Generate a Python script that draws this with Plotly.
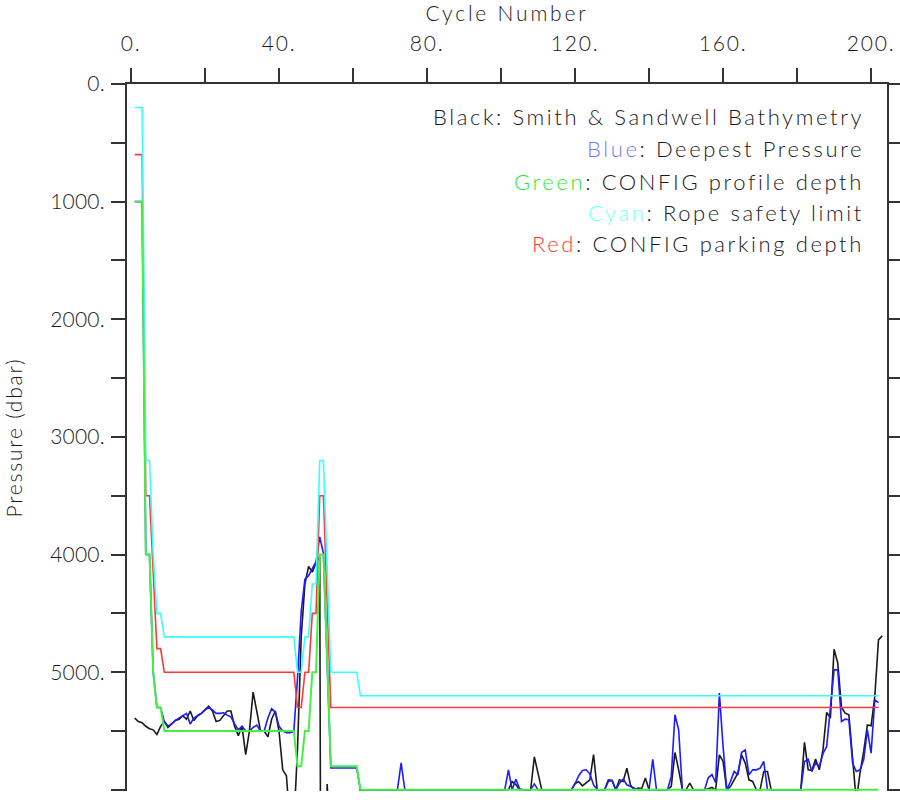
import plotly.graph_objects as go

# ---------------- data ----------------
black_bathy = [
    5390, 5420, 5430, 5460, 5480, 5490, 5530, 5460, 5420, 5470,   # 1-10
    5440, 5410, 5400, 5370, 5400, 5330, 5410, 5370, 5350, 5320,   # 11-20
    5290, 5330, 5420, 5410, 5370, 5330, 5330, 5460, 5540, 5460,   # 21-30
    5700, 5500, 5170, 5350, 5500, 5500, 5550, 5400, 5330, 5500,   # 31-40
    5830, 5880, 6300, 6300, 5650, 4700, 4250, 4100, 4150, 4070,   # 41-50
    4020, 15000, 5950, 6500, 6100, 6100, 6100, 6100, 6100, 6100,  # 51-60
    6100, 6000, 6000, 6000, 6000, 6000, 6000, 6000, 6000, 6000,   # 61-70
    6000, 6000, 6000, 6000, 6000, 6000, 6000, 6000, 6000, 6000,   # 71-80
    6000, 6000, 6000, 6000, 6000, 6000, 6000, 6000, 6000, 6000,   # 81-90
    6000, 6000, 6000, 6000, 6000, 6000, 6000, 6000, 6000, 6000,   # 91-100
    6000, 6000, 5930, 5955, 6000, 6000, 6000, 6000, 5720, 5850,   # 101-110
    6000, 6000, 6000, 6000, 6000, 6000, 6000, 6000, 6000, 5946,   # 111-120
    5932, 5966, 5938, 5915, 5700, 6000, 6000, 6000, 5915, 5921,   # 121-130
    6000, 5915, 5929, 5816, 5960, 6000, 5986, 5990, 5900, 6000,   # 131-140
    6000, 6000, 6000, 6000, 6000, 5970, 5683, 5830, 6000, 6000,   # 141-150
    5943, 6000, 6000, 6000, 6000, 5990, 5980, 6000, 5703, 5759,   # 151-160
    6000, 5972, 5915, 5858, 5703, 5773, 5915, 5929, 6000, 6000,   # 161-170
    5844, 5844, 6000, 6000, 6000, 6000, 6000, 6000, 6000, 6000,   # 171-180
    6000, 5597, 5830, 5835, 5739, 5830, 5660, 5342, 5391, 4805,   # 181-190
    4923, 5297, 5348, 5362, 5773, 6100, 5858, 5674, 5448, 5456,   # 191-200
    5207, 4725, 4691,                                             # 201-203
]

blue_deepest = [
    1000, 1000, 1000, 4000, 4000, 5000, 5300, 5300, 5420, 5460,   # 1-10
    5440, 5410, 5390, 5370, 5350, 5440, 5390, 5370, 5350, 5320,   # 11-20
    5300, 5320, 5350, 5350, 5345, 5365, 5380, 5440, 5490, 5460,   # 21-30
    5500, 5500, 5470, 5450, 5500, 5500, 5390, 5310, 5340, 5460,   # 31-40
    5500, 5515, 5515, 5505, 5050, 4480, 4210, 4180, 4120, 4060,   # 41-50
    3850, 3990, 4900, 5815, 5815, 5815, 5815, 5815, 5815, 5815,   # 51-60
    5815, 6000, 6000, 6000, 6000, 6000, 6000, 6000, 6000, 6000,   # 61-70
    6000, 6000, 5770, 6000, 6000, 6000, 6000, 6000, 6000, 6000,   # 71-80
    6000, 6000, 6000, 6000, 6000, 6000, 6000, 6000, 6000, 6000,   # 81-90
    6000, 6000, 6000, 6000, 6000, 6000, 6000, 6000, 6000, 6000,   # 91-100
    6000, 5830, 6000, 5910, 5990, 6000, 6000, 6000, 5950, 6000,   # 101-110
    6000, 6000, 6000, 6000, 6000, 6000, 6000, 6000, 6000, 5950,   # 111-120
    5880, 5836, 5830, 5864, 5957, 6000, 6000, 6000, 5929, 5921,   # 121-130
    6000, 5943, 5909, 5957, 5972, 5986, 6000, 6000, 6000, 6000,   # 131-140
    5740, 6000, 6000, 6000, 6000, 5886, 5362, 5490, 6000, 6000,   # 141-150
    6000, 6000, 6000, 6000, 6000, 5898, 5870, 5940, 5178, 5631,   # 151-160
    6000, 5929, 5844, 5873, 5683, 5660, 5873, 5830, 5830, 5816,   # 161-170
    5759, 6000, 6000, 6000, 6000, 6000, 6000, 6000, 6000, 6000,   # 171-180
    6000, 5759, 5739, 5844, 5773, 5801, 5693, 5631, 5320, 4980,   # 181-190
    4980, 5419, 5399, 5405, 5773, 5844, 5830, 5745, 5490, 5688,   # 191-200
    5235, 5258,                                                   # 201-202
]

green_profile = [
    1000, 1000, 1000, 4000, 4000, 5000, 5300, 5300, 5500, 5500,   # 1-10
    5500, 5500, 5500, 5500, 5500, 5500, 5500, 5500, 5500, 5500,   # 11-20
    5500, 5500, 5500, 5500, 5500, 5500, 5500, 5500, 5500, 5500,   # 21-30
    5500, 5500, 5500, 5500, 5500, 5500, 5500, 5500, 5500, 5500,   # 31-40
    5500, 5500, 5500, 5500, 5800, 5800, 5500, 5500, 5000, 5000,   # 41-50
    4000, 4000, 4900, 5800, 5800, 5800, 5800, 5800, 5800, 5800,   # 51-60
    5800, 6000, 6000, 6000, 6000, 6000, 6000, 6000, 6000, 6000,   # 61-70
    6000, 6000, 6000, 6000, 6000, 6000, 6000, 6000, 6000, 6000,   # 71-80
    6000, 6000, 6000, 6000, 6000, 6000, 6000, 6000, 6000, 6000,   # 81-90
    6000, 6000, 6000, 6000, 6000, 6000, 6000, 6000, 6000, 6000,   # 91-100
    6000, 6000, 6000, 6000, 6000, 6000, 6000, 6000, 6000, 6000,   # 101-110
    6000, 6000, 6000, 6000, 6000, 6000, 6000, 6000, 6000, 6000,   # 111-120
    6000, 6000, 6000, 6000, 6000, 6000, 6000, 6000, 6000, 6000,   # 121-130
    6000, 6000, 6000, 6000, 6000, 6000, 6000, 6000, 6000, 6000,   # 131-140
    6000, 6000, 6000, 6000, 6000, 6000, 6000, 6000, 6000, 6000,   # 141-150
    6000, 6000, 6000, 6000, 6000, 6000, 6000, 6000, 6000, 6000,   # 151-160
    6000, 6000, 6000, 6000, 6000, 6000, 6000, 6000, 6000, 6000,   # 161-170
    6000, 6000, 6000, 6000, 6000, 6000, 6000, 6000, 6000, 6000,   # 171-180
    6000, 6000, 6000, 6000, 6000, 6000, 6000, 6000, 6000, 6000,   # 181-190
    6000, 6000, 6000, 6000, 6000, 6000, 6000, 6000, 6000, 6000,   # 191-200
    6000, 6000,                                                   # 201-202
]

cyan_rope = [
    200, 200, 200, 3200, 3200, 4000, 4500, 4500, 4700, 4700,      # 1-10
    4700, 4700, 4700, 4700, 4700, 4700, 4700, 4700, 4700, 4700,   # 11-20
    4700, 4700, 4700, 4700, 4700, 4700, 4700, 4700, 4700, 4700,   # 21-30
    4700, 4700, 4700, 4700, 4700, 4700, 4700, 4700, 4700, 4700,   # 31-40
    4700, 4700, 4700, 4700, 5000, 5000, 4700, 4700, 4250, 4250,   # 41-50
    3200, 3200, 4100, 5000, 5000, 5000, 5000, 5000, 5000, 5000,   # 51-60
    5000, 5200, 5200, 5200, 5200, 5200, 5200, 5200, 5200, 5200,   # 61-70
    5200, 5200, 5200, 5200, 5200, 5200, 5200, 5200, 5200, 5200,   # 71-80
    5200, 5200, 5200, 5200, 5200, 5200, 5200, 5200, 5200, 5200,   # 81-90
    5200, 5200, 5200, 5200, 5200, 5200, 5200, 5200, 5200, 5200,   # 91-100
    5200, 5200, 5200, 5200, 5200, 5200, 5200, 5200, 5200, 5200,   # 101-110
    5200, 5200, 5200, 5200, 5200, 5200, 5200, 5200, 5200, 5200,   # 111-120
    5200, 5200, 5200, 5200, 5200, 5200, 5200, 5200, 5200, 5200,   # 121-130
    5200, 5200, 5200, 5200, 5200, 5200, 5200, 5200, 5200, 5200,   # 131-140
    5200, 5200, 5200, 5200, 5200, 5200, 5200, 5200, 5200, 5200,   # 141-150
    5200, 5200, 5200, 5200, 5200, 5200, 5200, 5200, 5200, 5200,   # 151-160
    5200, 5200, 5200, 5200, 5200, 5200, 5200, 5200, 5200, 5200,   # 161-170
    5200, 5200, 5200, 5200, 5200, 5200, 5200, 5200, 5200, 5200,   # 171-180
    5200, 5200, 5200, 5200, 5200, 5200, 5200, 5200, 5200, 5200,   # 181-190
    5200, 5200, 5200, 5200, 5200, 5200, 5200, 5200, 5200, 5200,   # 191-200
    5200, 5200,                                                   # 201-202
]

red_parking = [
    600, 600, 600, 3500, 3500, 4150, 4800, 4800, 5000, 5000,      # 1-10
    5000, 5000, 5000, 5000, 5000, 5000, 5000, 5000, 5000, 5000,   # 11-20
    5000, 5000, 5000, 5000, 5000, 5000, 5000, 5000, 5000, 5000,   # 21-30
    5000, 5000, 5000, 5000, 5000, 5000, 5000, 5000, 5000, 5000,   # 31-40
    5000, 5000, 5000, 5000, 5300, 5300, 5000, 5000, 4500, 4500,   # 41-50
    3500, 3500, 4400, 5300, 5300, 5300, 5300, 5300, 5300, 5300,   # 51-60
    5300, 5300, 5300, 5300, 5300, 5300, 5300, 5300, 5300, 5300,   # 61-70
    5300, 5300, 5300, 5300, 5300, 5300, 5300, 5300, 5300, 5300,   # 71-80
    5300, 5300, 5300, 5300, 5300, 5300, 5300, 5300, 5300, 5300,   # 81-90
    5300, 5300, 5300, 5300, 5300, 5300, 5300, 5300, 5300, 5300,   # 91-100
    5300, 5300, 5300, 5300, 5300, 5300, 5300, 5300, 5300, 5300,   # 101-110
    5300, 5300, 5300, 5300, 5300, 5300, 5300, 5300, 5300, 5300,   # 111-120
    5300, 5300, 5300, 5300, 5300, 5300, 5300, 5300, 5300, 5300,   # 121-130
    5300, 5300, 5300, 5300, 5300, 5300, 5300, 5300, 5300, 5300,   # 131-140
    5300, 5300, 5300, 5300, 5300, 5300, 5300, 5300, 5300, 5300,   # 141-150
    5300, 5300, 5300, 5300, 5300, 5300, 5300, 5300, 5300, 5300,   # 151-160
    5300, 5300, 5300, 5300, 5300, 5300, 5300, 5300, 5300, 5300,   # 161-170
    5300, 5300, 5300, 5300, 5300, 5300, 5300, 5300, 5300, 5300,   # 171-180
    5300, 5300, 5300, 5300, 5300, 5300, 5300, 5300, 5300, 5300,   # 181-190
    5300, 5300, 5300, 5300, 5300, 5300, 5300, 5300, 5300, 5300,   # 191-200
    5300, 5300,                                                   # 201-202
]

x_tick_vals = [0, 20, 40, 60, 80, 100, 120, 140, 160, 180, 200]
x_tick_labels = ["0.", "", "40.", "", "80.", "", "120.", "", "160.", "", "200."]
y_tick_vals = [0, 500, 1000, 1500, 2000, 2500, 3000, 3500, 4000, 4500, 5000, 5500, 6000]
y_tick_labels = ["0.", "", "1000.", "", "2000.", "", "3000.", "", "4000.", "", "5000.", "", "6000."]

legend_lines = [
    ("Black", "#1a1a1a", ": Smith & Sandwell Bathymetry"),
    ("Blue", "#7878ff", ": Deepest Pressure"),
    ("Green", "#2ee82e", ": CONFIG profile depth"),
    ("Cyan", "#70ffff", ": Rope safety limit"),
    ("Red", "#ff3838", ": CONFIG parking depth"),
]

# ---------------- figure ----------------
cyc_black = list(range(1, len(black_bathy) + 1))
cyc = list(range(1, len(blue_deepest) + 1))

FONT = "Lato"
AX = "#333333"
TXT = "#1a1a1a"


def spaced(s, ls=1.6):
    return f'<span style="letter-spacing:{ls}px">{s}</span>' if s else ""


fig = go.Figure()
fig.add_trace(go.Scatter(x=cyc_black, y=black_bathy, mode="lines",
                         line=dict(color="#1a1a1a", width=1.6)))
fig.add_trace(go.Scatter(x=cyc, y=blue_deepest, mode="lines",
                         line=dict(color="#1c1cff", width=1.6)))
fig.add_trace(go.Scatter(x=cyc, y=red_parking, mode="lines",
                         line=dict(color="#ff3838", width=1.6)))
fig.add_trace(go.Scatter(x=cyc, y=cyan_rope, mode="lines",
                         line=dict(color="#38ffff", width=1.6)))
fig.add_trace(go.Scatter(x=cyc, y=green_profile, mode="lines",
                         line=dict(color="#45f045", width=2)))

ys = [0.9547, 0.9093, 0.8626, 0.8187, 0.7748]
for (word, col, rest), yy in zip(legend_lines, ys):
    fig.add_annotation(
        xref="paper", yref="paper", x=0.973, y=yy, xanchor="right", yanchor="middle",
        text=(f'<span style="letter-spacing:2.6px;color:{col}">{word}</span>'
              f'<span style="letter-spacing:2.6px">{rest}</span>'),
        showarrow=False,
        font=dict(family=FONT, size=22, color=TXT, weight=300))

fig.update_layout(
    width=900, height=800,
    margin=dict(l=127, r=13, t=84, b=9),
    paper_bgcolor="white", plot_bgcolor="white",
    showlegend=False,
    font=dict(family=FONT, size=21, color=TXT, weight=300),
    xaxis=dict(
        side="top", range=[-1.08, 204.3], tickmode="array",
        tickvals=x_tick_vals, ticktext=[spaced(t, 1.8) for t in x_tick_labels],
        ticks="outside", ticklen=14, tickwidth=2, tickcolor=AX,
        showline=True, linecolor=AX, linewidth=2, mirror=False,
        showgrid=False, zeroline=False, layer="below traces",
        ticklabelstandoff=9, automargin=False,
        tickfont=dict(family=FONT, size=21, color=TXT, weight=300),
        title=dict(text=spaced("Cycle Number", 2.8), standoff=11,
                   font=dict(family=FONT, size=21, color=TXT, weight=300)),
    ),
    yaxis=dict(
        range=[6010, 0], tickmode="array",
        tickvals=y_tick_vals, ticktext=[spaced(t, 0.2) for t in y_tick_labels],
        ticks="outside", ticklen=14, tickwidth=2, tickcolor=AX,
        showline=True, linecolor=AX, linewidth=2, mirror="ticks",
        showgrid=False, zeroline=False, layer="below traces",
        ticklabelstandoff=2, automargin=False,
        tickfont=dict(family=FONT, size=21, color=TXT, weight=300),
        title=dict(text=spaced("Pressure (dbar)", 1.8), standoff=22,
                   font=dict(family=FONT, size=21, color=TXT, weight=300)),
    ),
)

fig.write_html("out.html", config={"displayModeBar": False},
               post_script="document.body.style.margin='0px';")
